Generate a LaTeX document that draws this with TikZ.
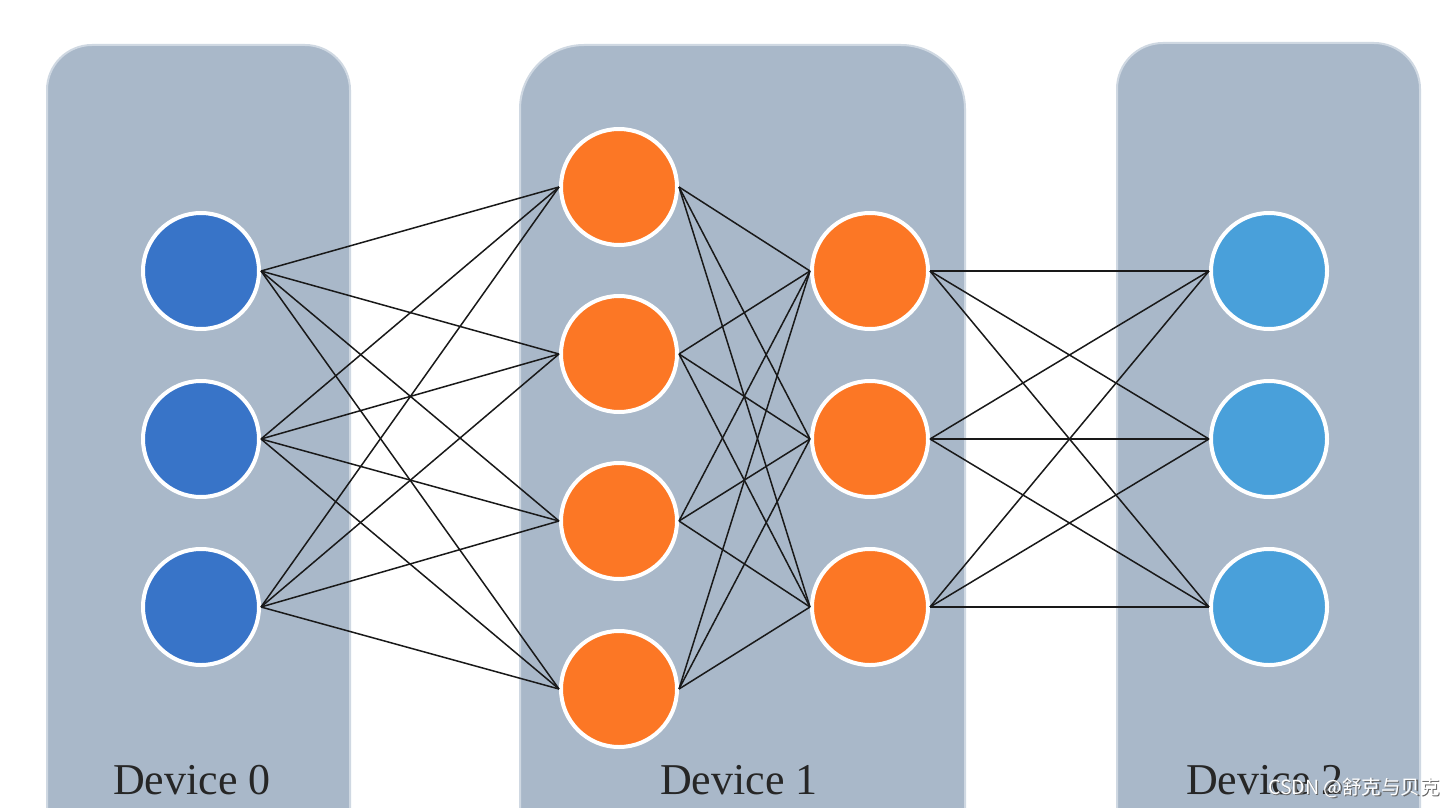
\documentclass[tikz,border=0pt]{standalone}
\usepackage{fontspec}
\setmainfont{Liberation Serif}
\newfontfamily\cjk{Noto Sans CJK SC}
\definecolor{boxfill}{HTML}{A9B8C9}
\definecolor{boxedge}{HTML}{CFD8E2}
\definecolor{nodeblue}{HTML}{3874C8}
\definecolor{nodeorange}{HTML}{FC7725}
\definecolor{nodelight}{HTML}{49A0DA}
\definecolor{labeltext}{HTML}{262626}
\tikzset{
  devbox/.style={fill=boxfill, draw=boxedge, line width=2pt},
  neuron/.style={circle, draw=white, line width=4pt, minimum size=116pt, inner sep=0pt},
  bluen/.style={neuron, fill=nodeblue},
  orangen/.style={neuron, fill=nodeorange},
  lightn/.style={neuron, fill=nodelight},
  link/.style={draw=black!90, line width=1.5pt},
  devlabel/.style={font=\fontsize{44}{48}\selectfont, text=labeltext, anchor=base, inner sep=0pt},
  wmark/.style={font=\cjk\fontsize{19.5}{21}\selectfont, anchor=east, inner sep=0pt}
}
\begin{document}
\begin{tikzpicture}[x=1pt, y=-1pt]
\useasboundingbox (0,0) rectangle (1456,808);
\clip (0,0) rectangle (1456,808);
\fill[white] (0,0) rectangle (1456,808);
% device boxes
\draw[devbox, rounded corners=45pt] (47,900) -- (47,45) -- (350,45) -- (350,900);
\draw[devbox, rounded corners=64pt] (520,900) -- (520,45) -- (965,45) -- (965,900);
\draw[devbox, rounded corners=46pt] (1117,900) -- (1117,43) -- (1420,43) -- (1420,900);
% nodes
\node[bluen] (a1) at (201,271) {};
\node[bluen] (a2) at (201,439) {};
\node[bluen] (a3) at (201,607) {};
\node[orangen] (b1) at (619,187) {};
\node[orangen] (b2) at (619,354) {};
\node[orangen] (b3) at (619,521) {};
\node[orangen] (b4) at (619,689) {};
\node[orangen] (c1) at (870,271) {};
\node[orangen] (c2) at (870,439) {};
\node[orangen] (c3) at (870,607) {};
\node[lightn] (d1) at (1269,271) {};
\node[lightn] (d2) at (1269,439) {};
\node[lightn] (d3) at (1269,607) {};
% links
\foreach \i in {1,2,3}{\foreach \j in {1,2,3,4}{\draw[link] (a\i.east) -- (b\j.west);}}
\foreach \i in {1,2,3,4}{\foreach \j in {1,2,3}{\draw[link] (b\i.east) -- (c\j.west);}}
\foreach \i in {1,2,3}{\foreach \j in {1,2,3}{\draw[link] (c\i.east) -- (d\j.west);}}
% labels
\node[devlabel] (l0) at (192,794) {Device 0};
\node[devlabel] (l1) at (739,794) {Device 1};
\node[devlabel] (l2) at (1265,794) {Device 2};
% watermark (white text with grey shadow)
\node[wmark, text=gray!80!black] (wms) at (1441.2,789.2) {CSDN @舒克与贝克};
\node[wmark, text=white] (wm) at (1440,788) {CSDN @舒克与贝克};
\end{tikzpicture}
\end{document}
